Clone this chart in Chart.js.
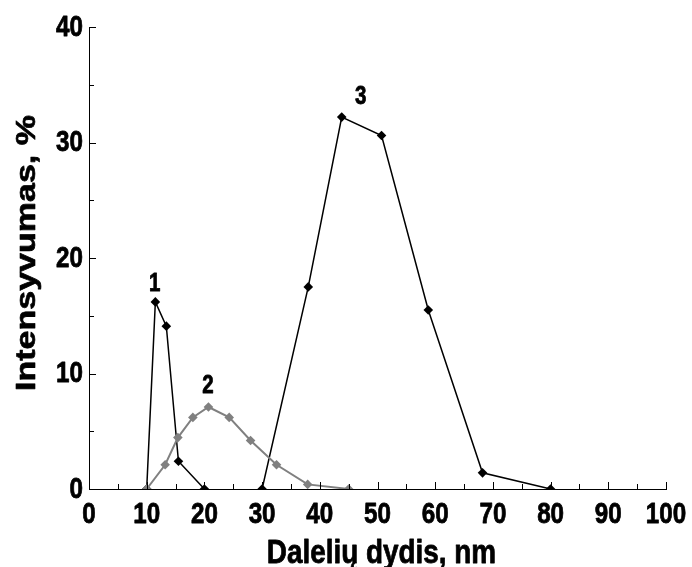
<!DOCTYPE html>
<html>
<head>
<meta charset="utf-8">
<script src="https://cdn.jsdelivr.net/npm/chart.js@4.4.1/dist/chart.umd.min.js"></script>
<style>
  html, body { margin: 0; padding: 0; background: #fff; }
  #wrap { width: 692px; height: 567px; }
</style>
</head>
<body>
<div id="wrap"><canvas id="grafikas"></canvas></div>
<script>
// DUOMENYS
const kreive1X = [10, 11.5, 13.4, 15.5, 20];
const kreive1Y = [0, 16.2, 14.1, 2.4, 0];
const kreive2X = [10, 13.2, 15.4, 18.0, 20.7, 24.3, 28.0, 32.5, 37.9, 45];
const kreive2Y = [0, 2.1, 4.45, 6.2, 7.1, 6.2, 4.2, 2.1, 0.4, 0];
const kreive3X = [30, 38.0, 43.8, 50.7, 58.8, 68.2, 80];
const kreive3Y = [0, 17.5, 32.2, 30.6, 15.5, 1.4, 0];
const xTicks = [0, 10, 20, 30, 40, 50, 60, 70, 80, 90, 100];
const yTicks = [0, 10, 20, 30, 40];
const zymes = ['1', '2', '3'];
const zymesX = [11.4, 20.6, 47.1];
const zymesY = [17.1, 8.3, 33.3];
const xPavadinimas = 'Dalelių dydis, nm';
const yPavadinimas = 'Intensyvumas, %';

const sriftas = "'Liberation Sans', Arial, sans-serif";
const suspaudimas = 0.82; // originalo raides siauresnes

const taskai = (xs, ys) => xs.map((x, i) => ({ x: x, y: ys[i] }));

// siauras, storesnis tekstas
function tekstas(ctx, t, x, y, dydis, lyg, sukti) {
    ctx.save();
    ctx.font = 'bold ' + dydis + 'px ' + sriftas;
    ctx.textAlign = lyg;
    ctx.textBaseline = 'alphabetic';
    ctx.lineWidth = 0.8;
    ctx.lineJoin = 'round';
    ctx.translate(x, y);
    if (sukti) { ctx.rotate(-Math.PI / 2); ctx.scale(1, suspaudimas); }
    else ctx.scale(suspaudimas, 1);
    ctx.fillText(t, 0, 0);
    ctx.strokeText(t, 0, 0);
    ctx.restore();
}

// padalos, uzrasai, pavadinimai
const uzrasai = {
    id: 'uzrasai',
    afterDraw(chart) {
        const { ctx, chartArea: a, scales: { x, y } } = chart;
        ctx.save();
        ctx.strokeStyle = '#000';
        ctx.fillStyle = '#000';
        ctx.lineWidth = 1;
        for (let v = 0; v <= 100; v += 5) {
            const px = Math.round(x.getPixelForValue(v)) + 0.5;
            const l = v % 10 === 0 ? 7 : 5;
            ctx.beginPath(); ctx.moveTo(px, a.bottom); ctx.lineTo(px, a.bottom - l); ctx.stroke();
        }
        for (let v = 0; v <= 40; v += 5) {
            const py = Math.round(y.getPixelForValue(v)) + 0.5;
            const l = v % 10 === 0 ? 7 : 5;
            ctx.beginPath(); ctx.moveTo(a.left, py); ctx.lineTo(a.left + l, py); ctx.stroke();
        }
        xTicks.forEach(v => tekstas(ctx, String(v), x.getPixelForValue(v), a.bottom + 34, 29.5, 'center'));
        yTicks.forEach(v => tekstas(ctx, String(v), a.left - 6, y.getPixelForValue(v) + 8.5, 29.5, 'right'));
        zymes.forEach((t, i) => tekstas(ctx, t, x.getPixelForValue(zymesX[i]), y.getPixelForValue(zymesY[i]), 25, 'center'));

        tekstas(ctx, xPavadinimas, (a.left + a.right) / 2 + 4, 563, 34, 'center');
        tekstas(ctx, yPavadinimas, 35, 253, 34, 'center', true);
        ctx.restore();
    }
};

const taskuStilius = { pointStyle: 'rectRot', pointRadius: 4.8, pointBorderWidth: 0, tension: 0 };

new Chart(document.getElementById('grafikas'), {
    type: 'line',
    data: {
        datasets: [
            { data: taskai(kreive2X, kreive2Y), borderColor: '#808080', backgroundColor: '#808080', borderWidth: 2, ...taskuStilius },
            { data: taskai(kreive1X, kreive1Y), borderColor: '#000', backgroundColor: '#000', borderWidth: 1.5, ...taskuStilius },
            { data: taskai(kreive3X, kreive3Y), borderColor: '#000', backgroundColor: '#000', borderWidth: 1.5, ...taskuStilius }
        ]
    },
    options: {
        responsive: true,
        maintainAspectRatio: false,
        animation: false,
        layout: { padding: { top: 27, right: 26, left: 0, bottom: 0 } },
        plugins: { legend: { display: false }, tooltip: { enabled: false } },
        scales: {
            x: {
                type: 'linear', min: 0, max: 100,
                afterBuildTicks: s => { s.ticks = xTicks.map(v => ({ value: v })); },
                afterFit: s => { s.height = 78; },
                grid: { drawOnChartArea: false, drawTicks: false },
                border: { color: '#000', width: 1 },
                ticks: { display: false }
            },
            y: {
                type: 'linear', min: 0, max: 40,
                afterBuildTicks: s => { s.ticks = yTicks.map(v => ({ value: v })); },
                afterFit: s => { s.width = 89; },
                grid: { drawOnChartArea: false, drawTicks: false },
                border: { color: '#000', width: 1 },
                ticks: { display: false }
            }
        }
    },
    plugins: [uzrasai]
});
</script>
</body>
</html>
